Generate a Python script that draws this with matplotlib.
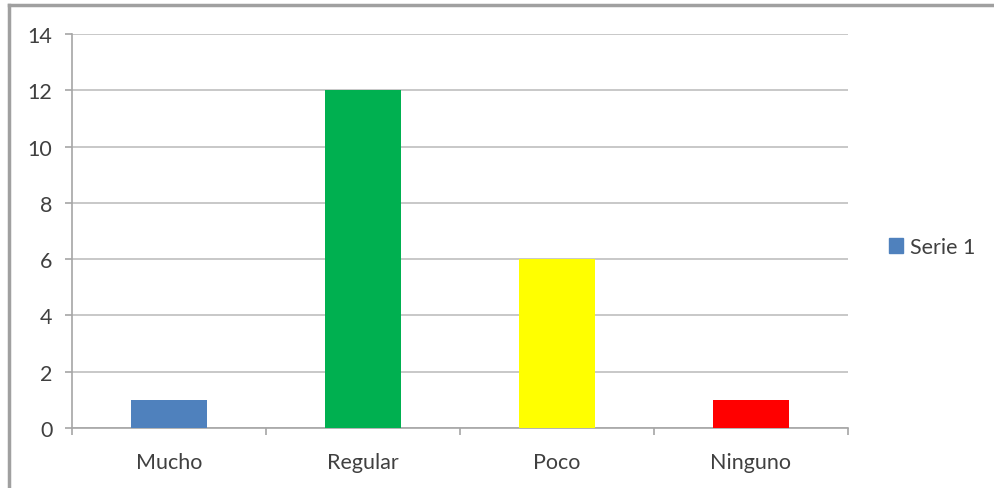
import matplotlib.pyplot as plt
from matplotlib.lines import Line2D
from matplotlib.patches import Patch

categorias = ["Mucho", "Regular", "Poco", "Ninguno"]
valores = [1, 12, 6, 1]
colores = ["#4F81BD", "#00B050", "#FFFF00", "#FF0000"]
serie = "Serie 1"

plt.rcParams["font.family"] = ["Lato", "DejaVu Sans"]

fig = plt.figure(figsize=(9.94, 4.89), dpi=100)
ax = fig.add_axes([0.0724, 0.1227, 0.7807, 0.8057])

x = range(len(categorias))
ax.bar(x, valores, width=0.39, color=colores, zorder=3)

ax.set_xlim(-0.5, len(categorias) - 0.5)
ax.set_ylim(0, 14)
ax.set_yticks(range(0, 15, 2))
ax.set_xticks(list(x))
ax.set_xticklabels(categorias)
ax.set_xticks([i - 0.5 for i in range(len(categorias) + 1)], minor=True)

ax.grid(axis="y", color="#BFBFBF", linewidth=1.2, zorder=0)
for side in ["top", "right"]:
    ax.spines[side].set_visible(False)
for side in ["left", "bottom"]:
    ax.spines[side].set_color("#A6A6A6")
    ax.spines[side].set_linewidth(1.2)

ax.tick_params(axis="y", length=5, width=1.2, color="#A6A6A6", pad=9,
               labelsize=15.5, labelcolor="#404040")
ax.tick_params(axis="x", which="major", length=0, pad=17,
               labelsize=15.5, labelcolor="#404040")
ax.tick_params(axis="x", which="minor", length=5, width=1.2, color="#A6A6A6")

ax.legend(handles=[Patch(color=colores[0], label=serie)],
          loc="center left", bbox_to_anchor=(1.028, 0.459), frameon=False,
          fontsize=15.5, labelcolor="#404040", handlelength=0.65,
          handleheight=0.65, handletextpad=0.3)

# chart area border
fig.add_artist(Line2D([9 / 994, 9 / 994], [0, 1 - 6 / 489],
                      color="#A0A0A0", linewidth=2.5))
fig.add_artist(Line2D([9 / 994, 1], [1 - 6 / 489, 1 - 6 / 489],
                      color="#A0A0A0", linewidth=2.5))

fig.savefig("out.png", dpi=100)
